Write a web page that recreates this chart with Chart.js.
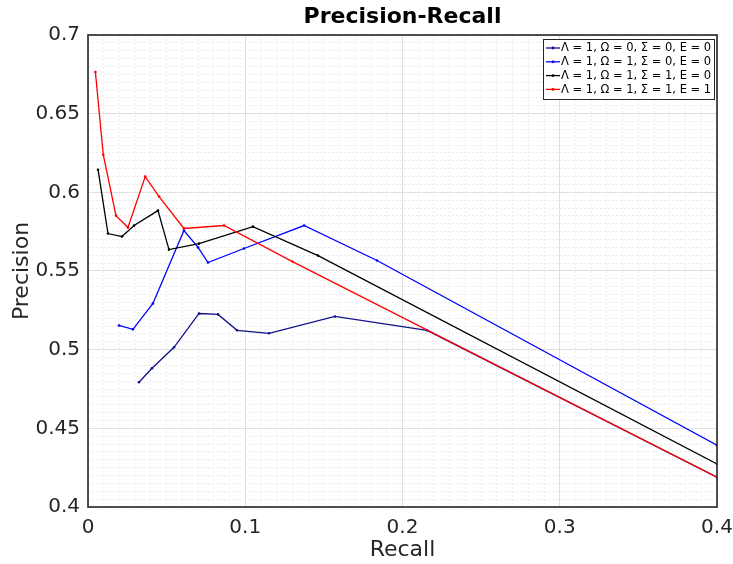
<!DOCTYPE html>
<html>
<head>
<meta charset="utf-8">
<script src="https://cdn.jsdelivr.net/npm/chart.js@4/dist/chart.umd.min.js"></script>
<style>
  html, body { margin: 0; padding: 0; background: #fff; }
  #wrap { width: 733px; height: 564px; }
</style>
</head>
<body>
<div id="wrap"><canvas id="pr"></canvas></div>
<script>
// values
const chartTitle = "Precision-Recall";
const seriesLabels = [
  "\u039b = 1, \u03a9 = 0, \u03a3 = 0, E = 0",
  "\u039b = 1, \u03a9 = 1, \u03a3 = 0, E = 0",
  "\u039b = 1, \u03a9 = 1, \u03a3 = 1, E = 0",
  "\u039b = 1, \u03a9 = 1, \u03a3 = 1, E = 1",
];
const seriesColors = ["#12128a", "#0000ff", "#000000", "#ff0000"];

const navyRecall = [0.0324, 0.0407, 0.0547, 0.0706, 0.0827, 0.0948, 0.1151, 0.157, 0.2156, 0.4];
const navyPrecision = [0.4793, 0.4882, 0.5015, 0.523, 0.5224, 0.5123, 0.5104, 0.5211, 0.5123, 0.419];

const blueRecall = [0.0197, 0.0286, 0.0413, 0.061, 0.070, 0.0763, 0.0992, 0.1374, 0.1838, 0.4];
const bluePrecision = [0.5154, 0.5129, 0.5294, 0.5757, 0.565, 0.5554, 0.5643, 0.5789, 0.5567, 0.4393];

const blackRecall = [0.0064, 0.0127, 0.0216, 0.0293, 0.0445, 0.0515, 0.0706, 0.1049, 0.1463, 0.4];
const blackPrecision = [0.6144, 0.5738, 0.5719, 0.5789, 0.5884, 0.5636, 0.5674, 0.5782, 0.5598, 0.4273];

const redRecall = [0.0047, 0.0097, 0.0178, 0.0254, 0.0364, 0.0452, 0.061, 0.0865, 0.130, 0.4];
const redPrecision = [0.6765, 0.6239, 0.5852, 0.5776, 0.61, 0.5973, 0.577, 0.5789, 0.556, 0.419];

const xTicks = [0, 0.1, 0.2, 0.3, 0.4];
const yTicks = [0.4, 0.45, 0.5, 0.55, 0.6, 0.65, 0.7];

function pairs(xs, ys) {
  return xs.map((x, i) => ({ x, y: ys[i] }));
}

function isMajor(v, list) {
  return list.some(t => Math.abs(t - v) < 1e-6);
}

const allSeries = [
  pairs(navyRecall, navyPrecision),
  pairs(blueRecall, bluePrecision),
  pairs(blackRecall, blackPrecision),
  pairs(redRecall, redPrecision),
];

const datasets = allSeries.map((data, i) => ({
  label: seriesLabels[i],
  data,
  showLine: true,
  borderColor: seriesColors[i],
  backgroundColor: seriesColors[i],
  borderWidth: 1.3,
  pointRadius: 1.3,
  pointHoverRadius: 1.3,
  pointBorderWidth: 0,
  order: 3 - i,
}));

// title centred over the plot, frame round it, legend box in the top-right corner
const frameAndLegend = {
  id: "frameAndLegend",
  afterDraw(chart) {
    const { ctx, chartArea: a } = chart;
    ctx.save();
    ctx.fillStyle = "#000";
    ctx.font = "bold 22px 'DejaVu Sans'";
    ctx.textAlign = "center";
    ctx.textBaseline = "middle";
    ctx.fillText(chartTitle, (a.left + a.right) / 2, 17);

    ctx.strokeStyle = "#262626";
    ctx.lineWidth = 1.6;
    ctx.strokeRect(a.left, a.top, a.right - a.left, a.bottom - a.top);

    const bx = 543, by = 39, bw = 171, bh = 60;
    ctx.fillStyle = "#fff";
    ctx.fillRect(bx, by, bw, bh);
    ctx.strokeStyle = "#262626";
    ctx.lineWidth = 1;
    ctx.strokeRect(bx + 0.5, by + 0.5, bw, bh);

    ctx.font = "11.5px 'DejaVu Sans'";
    ctx.textAlign = "left";
    chart.data.datasets.forEach((ds, i) => {
      const y = by + 9 + i * 13.8;
      ctx.strokeStyle = ds.borderColor;
      ctx.lineWidth = 1.3;
      ctx.beginPath();
      ctx.moveTo(bx + 3, y);
      ctx.lineTo(bx + 17, y);
      ctx.stroke();
      ctx.fillStyle = ds.borderColor;
      ctx.beginPath();
      ctx.arc(bx + 10, y, 1.4, 0, Math.PI * 2);
      ctx.fill();
      ctx.fillStyle = "#000";
      ctx.fillText(ds.label, bx + 18, y + 0.5);
    });
    ctx.restore();
  },
};

new Chart(document.getElementById("pr"), {
  type: "scatter",
  data: { datasets },
  options: {
    responsive: true,
    maintainAspectRatio: false,
    animation: false,
    layout: { padding: { left: 0, right: 16, top: 35, bottom: 0 } },
    plugins: {
      legend: { display: false },
      tooltip: { enabled: false },
      title: { display: false },
    },
    scales: {
      x: {
        type: "linear",
        min: 0,
        max: 0.4,
        afterFit(scale) {
          scale.height = 57;
          scale.paddingLeft = 0;
          scale.paddingRight = 0;
        },
        ticks: {
          stepSize: 0.01,
          maxTicksLimit: 1000,
          autoSkip: false,
          maxRotation: 0,
          padding: 9,
          color: "#262626",
          font: { family: "'DejaVu Sans'", size: 20 },
          callback: v => (isMajor(v, xTicks) ? String(+v.toFixed(1)) : ""),
        },
        grid: {
          drawTicks: false,
          lineWidth: 1,
          color: c => (c.tick && isMajor(c.tick.value, xTicks) ? "#e0e0e0" : "#ececec"),
        },
        border: {
          display: false,
          dash: c => (c.tick && !isMajor(c.tick.value, xTicks) ? [2, 2] : []),
        },
        title: {
          display: true,
          text: "Recall",
          color: "#262626",
          font: { family: "'DejaVu Sans'", size: 22 },
          padding: { top: 0, bottom: 1 },
        },
      },
      y: {
        type: "linear",
        min: 0.4,
        max: 0.7,
        afterFit(scale) {
          scale.width = 88;
          scale.paddingTop = 0;
          scale.paddingBottom = 0;
        },
        ticks: {
          stepSize: 0.005,
          maxTicksLimit: 1000,
          autoSkip: false,
          padding: 8,
          color: "#262626",
          font: { family: "'DejaVu Sans'", size: 20 },
          callback: v => (isMajor(v, yTicks) ? String(+v.toFixed(2)) : ""),
        },
        grid: {
          drawTicks: false,
          lineWidth: 1,
          color: c => (c.tick && isMajor(c.tick.value, yTicks) ? "#e0e0e0" : "#ececec"),
        },
        border: {
          display: false,
          dash: c => (c.tick && !isMajor(c.tick.value, yTicks) ? [2, 2] : []),
        },
        title: {
          display: true,
          text: "Precision",
          color: "#262626",
          font: { family: "'DejaVu Sans'", size: 22 },
          padding: { top: 9, bottom: 0 },
        },
      },
    },
  },
  plugins: [frameAndLegend],
});
</script>
</body>
</html>
